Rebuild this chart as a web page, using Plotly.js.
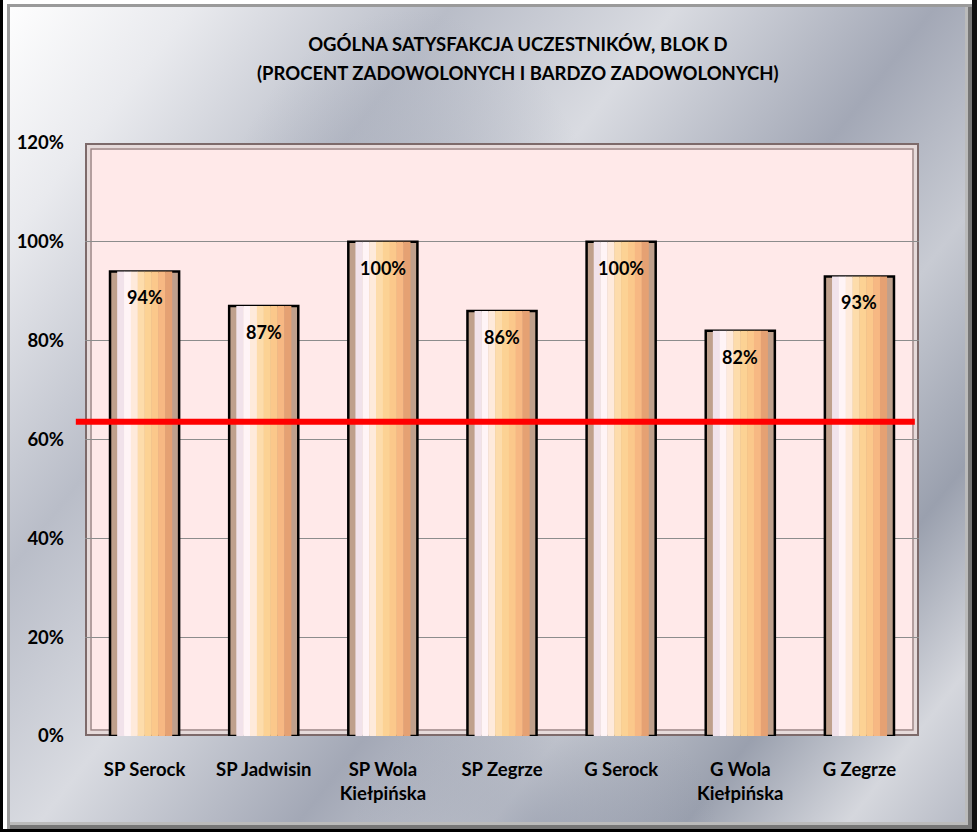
<!DOCTYPE html>
<html>
<head>
<meta charset="utf-8">
<script src="https://cdn.plot.ly/plotly-3.0.1.min.js"></script>
<style>
  html, body { margin: 0; padding: 0; background: #fff; }
  #wrap {
    position: absolute; left: 0; top: 0; width: 977px; height: 832px; box-sizing: border-box;
    background:
      radial-gradient(ellipse 300px 460px at 42% 40%, rgba(140,147,165,0.55), rgba(140,147,165,0) 70%),
      radial-gradient(ellipse 260px 200px at 55% 100%, rgba(140,147,165,0.5), rgba(140,147,165,0) 70%),
      linear-gradient(128deg, #ffffff 0%, #e9eaee 12%, #b9bdc8 28%, #d9dbe1 42%, #a3a8b6 58%, #c8cbd3 70%, #9aa0ae 82%, #d5d7dd 92%, #b4b8c3 100%);
    border-left: 3px solid #000; border-bottom: 3px solid #000; border-right: 5px solid #111;
    box-shadow: inset 4px 4px 0 #ffffff, inset 7px 7px 0 #9a9a9a, inset -4px -4px 0 #777, inset -7px -7px 0 #bbb;
  }
  #chart { position: absolute; left: -3px; top: 0; width: 977px; height: 832px; }
</style>
</head>
<body>
<div id="wrap"><div id="chart"></div></div>
<script>
const categories = ["SP Serock", "SP Jadwisin", "SP Wola<br>Kiełpińska", "SP Zegrze", "G Serock", "G Wola<br>Kiełpińska", "G Zegrze"];
const values = [94, 87, 100, 86, 100, 82, 93];
const valueLabels = ["94%", "87%", "100%", "86%", "100%", "82%", "93%"];
const threshold = 63.6;
const yTickVals = [0, 20, 40, 60, 80, 100, 120];
const yTickText = ["0%", "20%", "40%", "60%", "80%", "100%", "120%"];
const titleLine1 = "OGÓLNA SATYSFAKCJA UCZESTNIKÓW, BLOK D";
const titleLine2 = "(PROCENT ZADOWOLONYCH I BARDZO ZADOWOLONYCH)";

const FONT = "Lato, 'Liberation Sans', sans-serif";
const barWidth = 0.58;
const bevel = 0.06;
const stripColors = ["#f1e2ea", "#fff4f6", "#feeadb", "#fddcab", "#fcd294", "#fbc88b", "#f7b883", "#e5a173"];

const traces = [{
  type: "bar", x: categories, y: values, width: barWidth,
  marker: { color: "#bfa08c", line: { color: "#000", width: 2.5 } },
  hoverinfo: "skip", showlegend: false
}];
const inner = barWidth - 2 * bevel;
const sw = inner / stripColors.length;
stripColors.forEach((c, i) => {
  traces.push({
    type: "bar", x: categories, y: values, width: sw + 0.002,
    offset: -barWidth / 2 + bevel + i * sw,
    marker: { color: c, line: { width: 0 } },
    hoverinfo: "skip", showlegend: false
  });
});

const W = 834, H = 593;
function frame(p, color, w) {
  return { type: "rect", xref: "paper", yref: "paper", x0: p / W, x1: 1 - p / W, y0: p / H, y1: 1 - p / H,
           line: { color: color, width: w }, layer: "below" };
}
const shapes = [
  frame(1, "#7d6a6a", 2),
  frame(3.5, "#e6dada", 3),
  frame(6, "#9b8585", 1.5),
  { type: "line", xref: "paper", yref: "y", x0: -0.011, x1: 0.995, y0: threshold, y1: threshold,
    line: { color: "#ff0000", width: 6 }, layer: "above" }
];

const annotations = categories.map((c, i) => ({
  x: c, y: values[i], xref: "x", yref: "y", text: valueLabels[i], showarrow: false,
  yshift: -26, font: { family: FONT, size: 18, color: "#000", weight: "bold" }
}));
annotations.push({
  xref: "paper", yref: "paper", x: 0.519, y: 1.118, xanchor: "center", yanchor: "middle",
  text: "<b>" + titleLine2 + "</b>", showarrow: false,
  font: { family: FONT, size: 18.5, color: "#000" }
});

const layout = {
  width: 977, height: 832,
  margin: { l: 85, r: 58, t: 143, b: 96 },
  paper_bgcolor: "rgba(0,0,0,0)",
  plot_bgcolor: "#ffe9e9",
  barmode: "overlay",
  title: {
    text: "<b>" + titleLine1 + "</b>",
    x: 0.53, xanchor: "center", y: 1 - 45 / 832, yanchor: "middle",
    font: { family: FONT, size: 18.5, color: "#000" }
  },
  xaxis: {
    type: "category", showgrid: false, zeroline: false, showline: false,
    ticks: "", ticklabelstandoff: 20,
    tickfont: { family: FONT, size: 18.5, color: "#000", weight: "bold" }
  },
  yaxis: {
    range: [0, 120], tickmode: "array", tickvals: yTickVals, ticktext: yTickText,
    showgrid: true, gridcolor: "#8c8c8c", gridwidth: 1, zeroline: false, showline: false,
    ticks: "", ticklabelstandoff: 20,
    tickfont: { family: FONT, size: 18.5, color: "#000", weight: "bold" }
  },
  shapes: shapes,
  annotations: annotations,
  showlegend: false
};

Plotly.newPlot("chart", traces, layout, { displayModeBar: false, staticPlot: true });
</script>
</body>
</html>
